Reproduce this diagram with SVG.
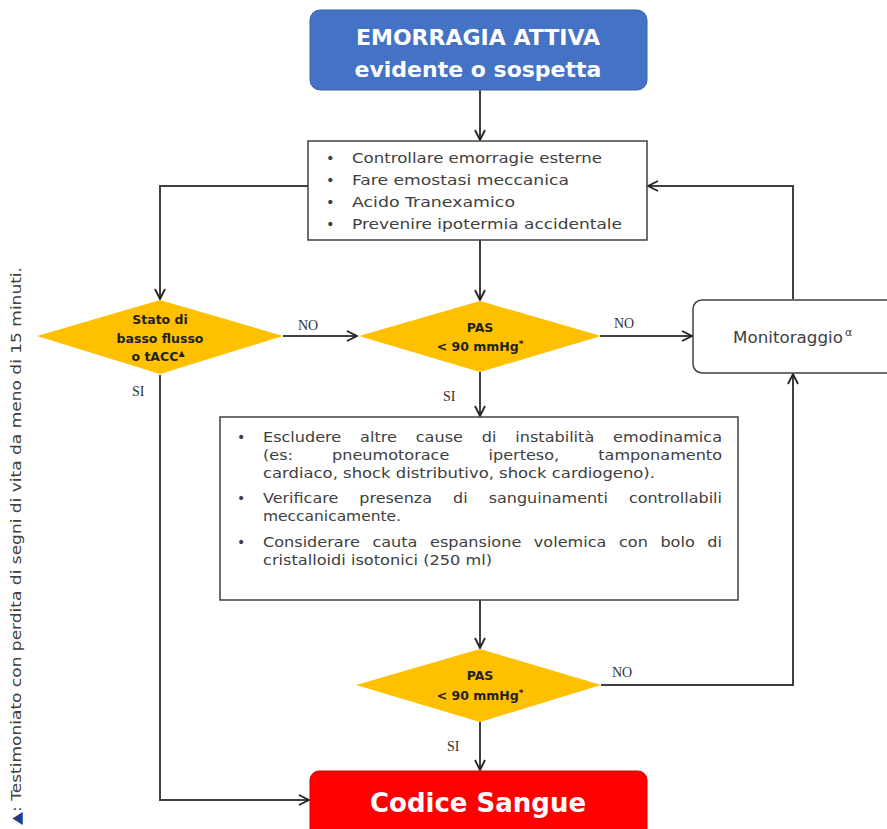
<svg xmlns="http://www.w3.org/2000/svg" width="887" height="829" viewBox="0 0 887 829">
<defs>
<marker id="arr" viewBox="0 0 12 12" refX="11" refY="6" markerWidth="12" markerHeight="12" markerUnits="userSpaceOnUse" orient="auto">
<path d="M1,1 L11,6 L1,11" fill="none" stroke="#222" stroke-width="1.8"/>
</marker>
<style>
.ln{fill:none;stroke:#404040;stroke-width:2}
.lab{font-family:"Liberation Serif",serif;font-size:14px;fill:#333}
.bx{fill:#fff;stroke:#404040;stroke-width:1.5}
.t{font-family:"DejaVu Sans",sans-serif;fill:#404040}
.dia{fill:#FFC000}
.dt{font-family:"DejaVu Sans",sans-serif;font-weight:bold;font-size:12.5px;fill:#222;text-anchor:middle}
.hd{font-family:"DejaVu Sans",sans-serif;font-weight:bold;fill:#fff;text-anchor:middle}
</style>
</defs>
<rect width="887" height="829" fill="#fff"/>
<g id="connectors">
<path class="ln" d="M480,90 V140" marker-end="url(#arr)"/>
<path class="ln" d="M308,186 H160 V299" marker-end="url(#arr)"/>
<path class="ln" d="M480,240 V300" marker-end="url(#arr)"/>
<path class="ln" d="M283,336 H357" marker-end="url(#arr)"/>
<path class="ln" d="M600,336 H692" marker-end="url(#arr)"/>
<path class="ln" d="M793,299 V186 H648" marker-end="url(#arr)"/>
<path class="ln" d="M480,372 V416" marker-end="url(#arr)"/>
<path class="ln" d="M480,600 V648" marker-end="url(#arr)"/>
<path class="ln" d="M601,685 H793 V374" marker-end="url(#arr)"/>
<path class="ln" d="M480,722 V770" marker-end="url(#arr)"/>
<path class="ln" d="M160,375 V800 H309" marker-end="url(#arr)"/>
<text class="lab" x="298" y="330">NO</text>
<text class="lab" x="614" y="328">NO</text>
<text class="lab" x="132" y="396">SI</text>
<text class="lab" x="443" y="401">SI</text>
<text class="lab" x="612" y="677">NO</text>
<text class="lab" x="447" y="751">SI</text>
</g>
<g id="start">
<rect x="310" y="10" width="337" height="80" rx="10" fill="#4472C4" stroke="#3A62A8" stroke-width="1"/>
<text class="hd" x="478" y="45" font-size="22">EMORRAGIA ATTIVA</text>
<text class="hd" x="478" y="77" font-size="22">evidente o sospetta</text>
</g>
<g id="azioni">
<rect class="bx" x="308" y="141" width="339" height="99"/>
<g class="t" font-size="14.5">
<text x="326" y="163">•</text><text x="352" y="163" textLength="250" lengthAdjust="spacingAndGlyphs">Controllare emorragie esterne</text>
<text x="326" y="185">•</text><text x="352" y="185" textLength="217" lengthAdjust="spacingAndGlyphs">Fare emostasi meccanica</text>
<text x="326" y="207">•</text><text x="352" y="207" textLength="163" lengthAdjust="spacingAndGlyphs">Acido Tranexamico</text>
<text x="326" y="229">•</text><text x="352" y="229" textLength="270" lengthAdjust="spacingAndGlyphs">Prevenire ipotermia accidentale</text>
</g>
</g>
<g id="stato">
<polygon class="dia" points="160,300 283,336 160,374 37,336"/>
<text class="dt" x="160" y="324">Stato di</text>
<text class="dt" x="160" y="343">basso flusso</text>
<text class="dt" x="158" y="361">o tACC<tspan font-size="8" dy="-5">▲</tspan></text>
</g>
<g id="pas1">
<polygon class="dia" points="480,301 601,336 480,372 359,336"/>
<text class="dt" x="480" y="332">PAS</text>
<text class="dt" x="480" y="351">&lt; 90 mmHg<tspan font-size="9" dy="-4">*</tspan></text>
</g>
<g id="monitoraggio">
<rect x="693" y="300" width="210" height="73" rx="9" fill="#fff" stroke="#404040" stroke-width="1.5"/>
<text class="t" x="733" y="343" font-size="15" textLength="110" lengthAdjust="spacingAndGlyphs">Monitoraggio</text>
<text class="t" x="845" y="336" font-size="11">α</text>
</g>
<g id="verifiche">
<rect class="bx" x="220" y="417" width="518" height="183"/>
<g class="t" font-size="14">
<text x="237" y="442">•</text>
<text x="263" y="442" word-spacing="12" textLength="459" lengthAdjust="spacingAndGlyphs">Escludere altre cause di instabilità emodinamica</text>
<text x="263" y="460" word-spacing="29.7" textLength="459" lengthAdjust="spacingAndGlyphs">(es: pneumotorace iperteso, tamponamento</text>
<text x="263" y="478" textLength="392" lengthAdjust="spacingAndGlyphs">cardiaco, shock distributivo, shock cardiogeno).</text>
<text x="237" y="503">•</text>
<text x="263" y="503" word-spacing="14" textLength="459" lengthAdjust="spacingAndGlyphs">Verificare presenza di sanguinamenti controllabili</text>
<text x="263" y="521" textLength="138" lengthAdjust="spacingAndGlyphs">meccanicamente.</text>
<text x="237" y="547">•</text>
<text x="263" y="547" word-spacing="6.5" textLength="459" lengthAdjust="spacingAndGlyphs">Considerare cauta espansione volemica con bolo di</text>
<text x="263" y="565" textLength="229" lengthAdjust="spacingAndGlyphs">cristalloidi isotonici (250 ml)</text>
</g>
</g>
<g id="pas2">
<polygon class="dia" points="480,649 601,685 480,722 356,685"/>
<text class="dt" x="480" y="680">PAS</text>
<text class="dt" x="480" y="700">&lt; 90 mmHg<tspan font-size="9" dy="-4">*</tspan></text>
</g>
<g id="codice">
<rect x="310" y="771" width="337" height="70" rx="9" fill="#FF0000" stroke="#D00000" stroke-width="1"/>
<text class="hd" x="478" y="812" font-size="26">Codice Sangue</text>
</g>
<g id="nota">
<text transform="translate(21,825) rotate(-90)" font-family="DejaVu Sans,sans-serif" font-size="13.5" fill="#404040" textLength="558" lengthAdjust="spacingAndGlyphs"><tspan fill="#1F3C88">▲</tspan>: Testimoniato con perdita di segni di vita da meno di 15 minuti.</text>
</g>
</svg>
